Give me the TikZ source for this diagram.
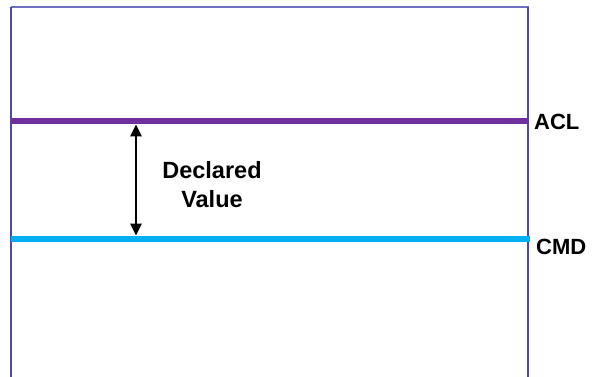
\documentclass[tikz,border=0pt]{standalone}
\usepackage{fontspec}
\setmainfont{Liberation Sans}
\usetikzlibrary{arrows.meta}
\definecolor{frametop}{HTML}{7070C0}
\definecolor{frameside}{HTML}{4A4AA8}
\definecolor{aclcol}{HTML}{7030A0}
\definecolor{cmdcol}{HTML}{00B0F0}
\tikzset{
  lbl/.style={font=\bfseries\fontsize{22}{26}\selectfont, inner sep=0pt, anchor=west},
  level/.style={line width=6pt},
  dim/.style={line width=2.6pt, {Triangle[length=12pt,width=11pt]}-{Triangle[length=12pt,width=11pt]}},
}
\begin{document}
\begin{tikzpicture}[x=1pt,y=-1pt]
\useasboundingbox (0,0) rectangle (597,377);
% frame
\draw[frametop, line width=2pt] (10.5,7.5) -- (528.5,7.5);
\draw[frameside, line width=1.5pt] (11,7) -- (11,377);
\draw[frameside, line width=1.5pt] (528,7) -- (528,377);
% levels
\coordinate (aclL) at (11,121.5);
\coordinate (aclR) at (528,121.5);
\coordinate (cmdL) at (11,238.5);
\coordinate (cmdR) at (530,238.5);
\draw[level, aclcol] (aclL) -- (aclR);
\draw[level, cmdcol] (cmdL) -- (cmdR);
\node[lbl] (acl) at (534,122) {ACL};
\node[lbl] (cmd) at (536,247) {CMD};
% arrow
\coordinate (atop) at (136,124.5);
\coordinate (abot) at (136,235.5);
\draw[dim] (atop) -- (abot);
\node[font=\bfseries\fontsize{23.5}{29}\selectfont, align=center, inner sep=0pt] (dv) at (212,184.5) {Declared\\Value};
\end{tikzpicture}
\end{document}
